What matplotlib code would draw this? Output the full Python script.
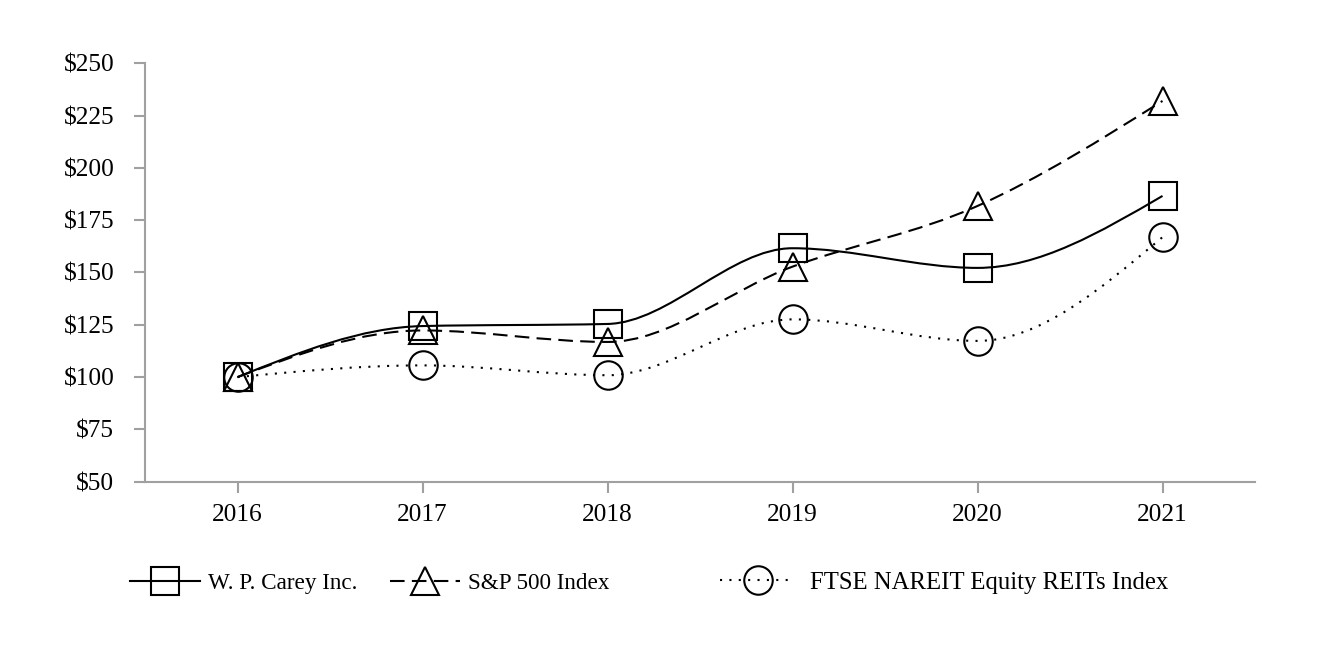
import matplotlib
matplotlib.use('Agg')
import matplotlib.pyplot as plt
from matplotlib.path import Path
from matplotlib.patches import PathPatch
from matplotlib.lines import Line2D
import numpy as np

# ---- data ----
years = ['2016', '2017', '2018', '2019', '2020', '2021']
wp_carey = [100, 124.4, 125.4, 161.6, 152.2, 186.6]
sp500 = [100, 122.3, 116.8, 152.8, 181.8, 232.0]
ftse_nareit = [100, 105.6, 100.9, 127.6, 117.3, 166.9]
y_ticks = [50, 75, 100, 125, 150, 175, 200, 225, 250]
y_tick_labels = ['\\$50', '\\$75', '\\$100', '\\$125', '\\$150', '\\$175', '\\$200', '\\$225', '\\$250']
series_names = ['W. P. Carey Inc.', 'S&P 500 Index', 'FTSE NAREIT Equity REITs Index']

plt.rcParams['font.family'] = ['Liberation Serif', 'DejaVu Serif']

fig = plt.figure(figsize=(13.2, 6.66), dpi=100)
ax = fig.add_axes([145 / 1320, 1 - 481.7 / 666, (1255 - 145) / 1320, (481.7 - 63.3) / 666])

x = np.arange(len(years))


def monotone_path(xs, ys):
    """Monotone cubic (monotoneX style) drawn as Bezier segments."""
    xs = np.asarray(xs, float)
    ys = np.asarray(ys, float)
    n = len(xs)
    h = np.diff(xs)
    s = np.diff(ys) / h
    m = np.zeros(n)
    for i in range(1, n - 1):
        s0, s1 = s[i - 1], s[i]
        p = (s0 * h[i] + s1 * h[i - 1]) / (h[i - 1] + h[i])
        sg = (1 if s0 >= 0 else -1) + (1 if s1 >= 0 else -1)
        m[i] = sg * min(abs(s0), abs(s1), 0.5 * abs(p))
    m[0] = (3 * s[0] - m[1]) / 2
    m[-1] = (3 * s[-1] - m[-2]) / 2
    verts = [(xs[0], ys[0])]
    codes = [Path.MOVETO]
    for i in range(n - 1):
        dx = h[i] / 3
        verts += [(xs[i] + dx, ys[i] + dx * m[i]),
                  (xs[i + 1] - dx, ys[i + 1] - dx * m[i + 1]),
                  (xs[i + 1], ys[i + 1])]
        codes += [Path.CURVE4] * 3
    return Path(verts, codes)


LW = 1.5
MS = 20.5
MEW = 1.5
styles = [
    dict(values=wp_carey, marker='s', ls='-'),
    dict(values=sp500, marker='^', ls=(0, (7, 3.5))),
    dict(values=ftse_nareit, marker='o', ls=(0, (1, 3.5))),
]

handles = []
for st, name in zip(styles, series_names):
    patch = PathPatch(monotone_path(x, st['values']), facecolor='none', edgecolor='black',
                      lw=LW, linestyle=st['ls'], zorder=3)
    ax.add_patch(patch)
    ax.plot(x, st['values'], linestyle='none', marker=st['marker'], ms=MS,
            mfc='none', mec='black', mew=MEW, zorder=4)
    handles.append(Line2D([], [], color='black', lw=LW, linestyle=st['ls'],
                          marker=st['marker'], ms=MS, mfc='none', mec='black', mew=MEW))

ax.set_xlim(-0.5, 5.5)
ax.set_ylim(50, 250)
ax.set_xticks(x)
ax.set_xticklabels(years)
ax.set_yticks(y_ticks)
ax.set_yticklabels(y_tick_labels)

gray = '#a0a0a0'
for s in ['top', 'right']:
    ax.spines[s].set_visible(False)
for s in ['left', 'bottom']:
    ax.spines[s].set_color(gray)
    ax.spines[s].set_linewidth(1.5)

ax.tick_params(axis='both', which='major', length=7.7, width=1.5, color=gray,
               labelcolor='black', labelsize=18.3)
ax.tick_params(axis='y', pad=14.4)
ax.tick_params(axis='x', pad=8.6)

# legend entries positioned individually
leg_x = [130 / 1320, 390 / 1320, 720 / 1320]
leg_fs = [16.7, 16.7, 17.8]
leg_hl = [3.02, 3.02, 3.04]
leg_pad = [0.345, 0.345, 0.6]
leg_y = 1 - 583 / 666
for h, name, lx, fs, hl, tp in zip(handles, series_names, leg_x, leg_fs, leg_hl, leg_pad):
    fig.legend(handles=[h], labels=[name], loc='center left', bbox_to_anchor=(lx, leg_y),
               frameon=False, borderpad=0, borderaxespad=0, handlelength=hl,
               handletextpad=tp, numpoints=1, fontsize=fs)

fig.savefig('out.png', dpi=100)
